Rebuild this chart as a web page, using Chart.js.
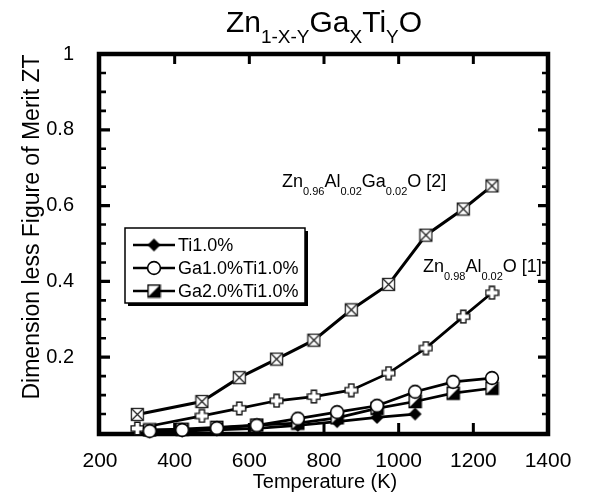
<!DOCTYPE html>
<html><head><meta charset="utf-8">
<script src="https://cdn.jsdelivr.net/npm/chart.js@4/dist/chart.umd.min.js"></script>
<style>html,body{margin:0;padding:0;background:#fff}#wrap{width:589px;height:499px;position:relative}</style>
</head><body><div id="wrap"><canvas id="c" width="589" height="499"></canvas></div>
<script>
// ---- data ----
const tempRef = [300, 473, 573, 673, 773, 873, 973, 1073, 1173, 1250];
const ztAGZO  = [0.049, 0.083, 0.146, 0.195, 0.245, 0.325, 0.392, 0.522, 0.591, 0.652]; // Zn0.96Al0.02Ga0.02O [2]
const ztAZO   = [0.012, 0.045, 0.065, 0.085, 0.096, 0.113, 0.158, 0.224, 0.307, 0.370]; // Zn0.98Al0.02O [1]
const tempTi  = [333, 420, 513, 620, 730, 835, 942, 1044, 1146, 1250];
const ztTi1    = [0.003, 0.005, 0.008, 0.012, 0.02, 0.03, 0.041, 0.05];
const ztGa1Ti1 = [0.005, 0.008, 0.013, 0.02, 0.038, 0.055, 0.072, 0.109, 0.135, 0.145];
const ztGa2Ti1 = [0.008, 0.01, 0.015, 0.021, 0.026, 0.04, 0.065, 0.083, 0.105, 0.118];
const seriesNames = ['Ti1.0%', 'Ga1.0%Ti1.0%', 'Ga2.0%Ti1.0%'];
const refNames = ['Zn0.96Al0.02Ga0.02O [2]', 'Zn0.98Al0.02O [1]'];
const xMin = 200, xMax = 1400, xStep = 200;
const yMin = 0, yMax = 1, yStep = 0.2, yMinorStep = 0.05;

const FONT = '"Liberation Sans", Arial, Helvetica, sans-serif';

function mk(size, draw){ const c=document.createElement('canvas'); c.width=size; c.height=size; const g=c.getContext('2d'); draw(g,size); return c; }
const mCrossSq = mk(15,(g)=>{ g.fillStyle='#fff'; g.fillRect(1.5,1.5,12,12); g.strokeStyle='#222'; g.lineWidth=1.3; g.strokeRect(1.5,1.5,12,12); g.beginPath(); g.moveTo(1.5,1.5); g.lineTo(13.5,13.5); g.moveTo(13.5,1.5); g.lineTo(1.5,13.5); g.stroke(); });
const mPlus = mk(15,(g)=>{ const c=7.5,a=2.6,b=6.3; g.beginPath();
  const p=[[c-a,c-b],[c+a,c-b],[c+a,c-a],[c+b,c-a],[c+b,c+a],[c+a,c+a],[c+a,c+b],[c-a,c+b],[c-a,c+a],[c-b,c+a],[c-b,c-a],[c-a,c-a]];
  g.moveTo(p[0][0],p[0][1]); for(const q of p.slice(1)) g.lineTo(q[0],q[1]); g.closePath();
  g.fillStyle='#fff'; g.fill(); g.strokeStyle='#111'; g.lineWidth=1.4; g.stroke(); });
const mDiamond = mk(15,(g)=>{ g.beginPath(); g.moveTo(7.5,1); g.lineTo(14,7.5); g.lineTo(7.5,14); g.lineTo(1,7.5); g.closePath(); g.fillStyle='#000'; g.fill(); });
const mCircle = mk(16,(g)=>{ g.beginPath(); g.arc(8,8,6.4,0,Math.PI*2); g.fillStyle='#fff'; g.fill(); g.strokeStyle='#000'; g.lineWidth=1.6; g.stroke(); });
const mHalf = mk(15,(g)=>{ g.fillStyle='#fff'; g.fillRect(1.5,1.5,12,12); g.beginPath(); g.moveTo(1.5,13.5); g.lineTo(13.5,1.5); g.lineTo(13.5,13.5); g.closePath(); g.fillStyle='#000'; g.fill(); g.strokeStyle='#000'; g.lineWidth=1.5; g.strokeRect(1.5,1.5,12,12); });

function pts(xs, ys){ return ys.map((y,i)=>({x:xs[i], y})); }
function ds(label, xs, ys, marker, lw){
  return { label, data: pts(xs, ys), borderColor:'#000', backgroundColor:'#000', borderWidth: lw, pointStyle: marker,
    pointRadius: 6, pointHoverRadius: 6, showLine: true, tension: 0, clip: false };
}
const datasets = [
  ds(seriesNames[1], tempTi, ztGa1Ti1, mCircle, 2.7),
  ds(seriesNames[2], tempTi, ztGa2Ti1, mHalf, 2.7),
  ds(seriesNames[0], tempTi.slice(0, ztTi1.length), ztTi1, mDiamond, 2.7),
  ds(refNames[1], tempRef, ztAZO, mPlus, 2.7),
  ds(refNames[0], tempRef, ztAGZO, mCrossSq, 3),
];

function richText(ctx, x, y, segs, mainPx, subPx, subDy, align){
  const widths = segs.map(s=>{ ctx.font = (s.sub?subPx:mainPx)+'px '+FONT; return ctx.measureText(s.t).width; });
  const total = widths.reduce((a,b)=>a+b,0);
  let cx = align==='center' ? x-total/2 : x;
  ctx.textBaseline='alphabetic'; ctx.textAlign='left'; ctx.fillStyle='#000';
  segs.forEach((s,i)=>{ ctx.font=(s.sub?subPx:mainPx)+'px '+FONT; ctx.fillText(s.t, cx, y+(s.sub?subDy:0)); cx+=widths[i]; });
}

const framePlugin = {
  id:'frame',
  beforeDatasetsDraw(chart){
    const {ctx, chartArea:a, scales:{x,y}} = chart;
    ctx.save(); ctx.strokeStyle='#000'; ctx.lineCap='butt';
    ctx.lineWidth=3;
    for(let v=xMin+xStep; v<xMax; v+=xStep){ const px=x.getPixelForValue(v);
      ctx.beginPath(); ctx.moveTo(px,a.top); ctx.lineTo(px,a.top+10); ctx.moveTo(px,a.bottom); ctx.lineTo(px,a.bottom-10); ctx.stroke(); }
    for(let k=1; k<Math.round((yMax-yMin)/yMinorStep); k++){ const v=yMin+k*yMinorStep; const py=y.getPixelForValue(v);
      const major = k%4===0; const L = major?10:6; ctx.lineWidth = major?3.2:2.6;
      ctx.beginPath(); ctx.moveTo(a.left,py); ctx.lineTo(a.left+L,py); ctx.moveTo(a.right,py); ctx.lineTo(a.right-L,py); ctx.stroke(); }
    ctx.lineWidth=4.5;
    ctx.strokeRect(a.left-1, a.top, a.right-a.left+1, a.bottom-a.top+1);
    ctx.restore();
  },
  afterDatasetsDraw(chart){
    const {ctx, chartArea:a} = chart;
    ctx.save();
    richText(ctx, (a.left+a.right)/2, 32, [{t:'Zn'},{t:'1-X-Y',sub:1},{t:'Ga'},{t:'X',sub:1},{t:'Ti'},{t:'Y',sub:1},{t:'O'}], 30, 19, 11, 'center');
    ctx.fillStyle='#000'; ctx.font='20px '+FONT; ctx.textAlign='center'; ctx.textBaseline='middle';
    ctx.fillText('Temperature (K)', (a.left+a.right)/2+1, 482);
    ctx.save(); ctx.translate(33, 227); ctx.rotate(-Math.PI/2); ctx.font='23px '+FONT; ctx.fillText('Dimension less Figure of Merit ZT', 0, 0); ctx.restore();
    richText(ctx, 282, 187, [{t:'Zn'},{t:'0.96',sub:1},{t:'Al'},{t:'0.02',sub:1},{t:'Ga'},{t:'0.02',sub:1},{t:'O [2]'}], 18, 11, 7.5, 'left');
    richText(ctx, 423, 272, [{t:'Zn'},{t:'0.98',sub:1},{t:'Al'},{t:'0.02',sub:1},{t:'O [1]'}], 18, 11, 7.5, 'left');
    const bx=125, by=228, bw=180, bh=75;
    ctx.fillStyle='#000'; ctx.fillRect(bx+3, by+3, bw, bh);
    ctx.fillStyle='#fff'; ctx.fillRect(bx, by, bw, bh);
    ctx.strokeStyle='#000'; ctx.lineWidth=1.5; ctx.strokeRect(bx, by, bw, bh);
    const markers=[mDiamond, mCircle, mHalf]; const rows=[245,268,291];
    seriesNames.forEach((n,i)=>{ const yy=rows[i];
      ctx.lineWidth=2.4; ctx.beginPath(); ctx.moveTo(133,yy); ctx.lineTo(175,yy); ctx.stroke();
      const m=markers[i]; ctx.drawImage(m, 154-m.width/2, yy-m.height/2);
      ctx.fillStyle='#000'; ctx.font='18px '+FONT; ctx.textAlign='left'; ctx.textBaseline='middle'; ctx.fillText(n, 178, yy+1);
    });
    ctx.restore();
  }
};

new Chart(document.getElementById('c'), {
  type:'scatter',
  data:{ datasets },
  options:{
    responsive:false, devicePixelRatio:1, animation:false,
    layout:{ padding:{ top:54, right:41, left:0, bottom:0 } },
    plugins:{ legend:{display:false}, title:{display:false}, tooltip:{enabled:false} },
    scales:{
      x:{ type:'linear', min:xMin, max:xMax, grid:{display:false}, border:{display:false},
          ticks:{ stepSize:xStep, padding:8, color:'#000', font:{family:FONT, size:21}, maxRotation:0,
            callback:(v)=> String(Math.round(v)) },
          afterFit(s){ s.height = 66; } },
      y:{ type:'linear', min:yMin, max:yMax, grid:{display:false}, border:{display:false},
          ticks:{ stepSize:yStep, padding:18, color:'#000', font:{family:FONT, size:20},
            callback:(v)=> v===0 ? '' : (Math.abs(v-1)<1e-9 ? '1' : v.toFixed(1)) },
          afterFit(s){ s.width = 100; } }
    }
  },
  plugins:[framePlugin]
});
</script></body></html>
